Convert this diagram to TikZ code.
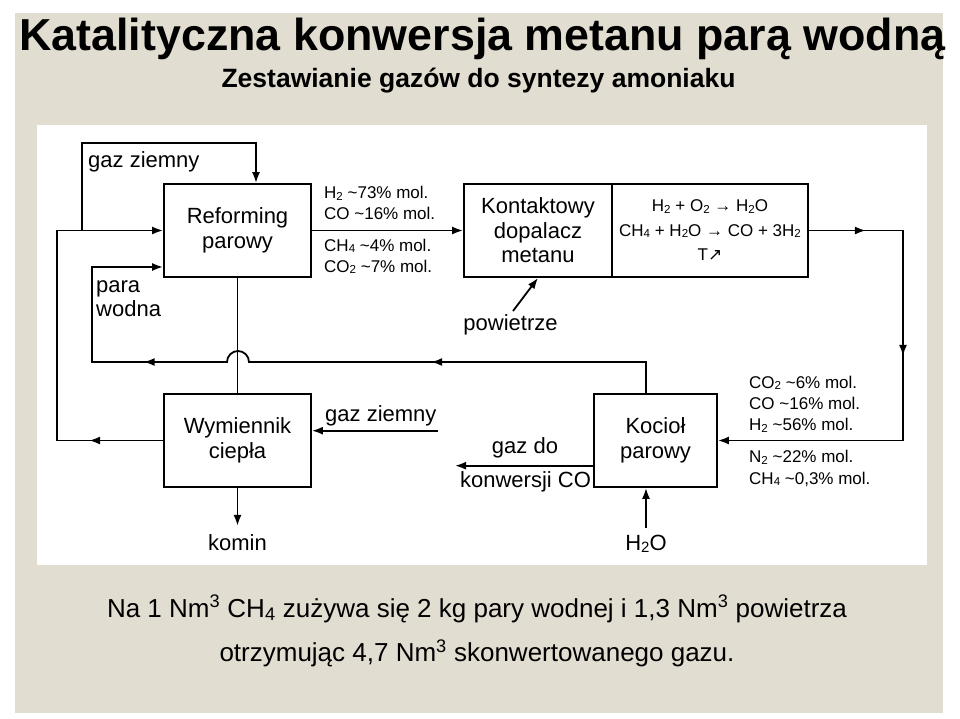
\documentclass[tikz,border=0pt]{standalone}
\usepackage{fontspec}
\setmainfont{Liberation Sans}
\newfontfamily\dejavu{DejaVu Sans}
\usetikzlibrary{arrows.meta,decorations.markings,calc}
\definecolor{paper}{RGB}{226,221,209}
\newcommand\dsub[1]{\raisebox{-0.08em}{\scalebox{0.68}{#1}}}
\newcommand\tl{\textasciitilde}
\tikzset{
  tip/.tip={Latex[length=11pt,width=8pt]},
  flow/.style={line width=1.8pt, -tip},
  plain/.style={line width=1.8pt},
  box/.style={draw, line width=1.8pt, rectangle, minimum height=93pt, inner sep=0pt, align=center, font=\fontsize{22}{24.5}\selectfont},
  big/.style={font=\fontsize{22}{24}\selectfont, inner sep=0pt},
  small/.style={font=\fontsize{17}{20.5}\selectfont, inner sep=0pt, align=left},
  midarr/.style={postaction={decorate, decoration={markings, mark=at position #1 with {\arrow{tip}}}}},
}
\begin{document}
\begin{tikzpicture}[x=1pt,y=-1pt]
\useasboundingbox (0,0) rectangle (960,718);
\fill[white] (0,0) rectangle (960,718);
\fill[paper] (15,13) rectangle (943,713);
\fill[white] (37,125) rectangle (927,565);

% titles
\node[font=\bfseries\fontsize{44.8}{48}\selectfont, anchor=base, inner sep=0pt] (title) at (482.5,50) {Katalityczna konwersja metanu parą wodną};
\node[font=\bfseries\fontsize{26.5}{30}\selectfont, anchor=base, inner sep=0pt] (subtitle) at (478.5,87) {Zestawianie gazów do syntezy amoniaku};
\node[font=\fontsize{26}{44.7}\selectfont, anchor=base, inner sep=0pt, align=center] (note) at (477,661.7) {Na 1 Nm\textsuperscript{3} CH\textsubscript{4} zużywa się 2 kg pary wodnej i 1,3 Nm\textsuperscript{3} powietrza\\otrzymując 4,7 Nm\textsuperscript{3} skonwertowanego gazu.};

% boxes
\node[box, minimum width=147pt] (ref) at (237.5,230.5) {Reforming\\parowy};
\node[box, minimum width=148pt] (kon) at (538,230.5) {Kontaktowy\\dopalacz\\metanu};
\node[box, minimum width=196pt, font=\fontsize{17}{24.5}\selectfont] (rea) at (710,230.5) {H\dsub{2} + O\dsub{2} → H\dsub{2}O\\CH\dsub{4} + H\dsub{2}O → CO + 3H\dsub{2}\\T{\dejavu ↗}};
\node[box, minimum width=147pt] (wym) at (237.5,440.5) {Wymiennik\\ciepła};
\node[box, minimum width=123pt] (koc) at (655.5,440.5) {Kocioł\\parowy};

% labels (multi-line: base = last line)
\node[big, anchor=base west] (gz1) at (88,167) {gaz ziemny};
\node[big, anchor=base west, align=left] (pw) at (96,316.7) {para\\wodna};
\node[small, anchor=base west] (l1) at (324,219.3) {H\dsub{2} \tl73\% mol.\\CO \tl16\% mol.};
\node[small, anchor=base west] (l2) at (324,272) {CH\dsub{4} \tl4\% mol.\\CO\dsub{2} \tl7\% mol.};
\node[small, anchor=base west, font=\fontsize{17}{21.2}\selectfont] (l3) at (749,430.7) {CO\dsub{2} \tl6\% mol.\\CO \tl16\% mol.\\H\dsub{2} \tl56\% mol.};
\node[small, anchor=base west, font=\fontsize{17}{21.3}\selectfont] (l4) at (749,484) {N\dsub{2} \tl22\% mol.\\CH\dsub{4} \tl0,3\% mol.};
\node[big, anchor=base west] (gz2) at (325,421.7) {gaz ziemny};
\node[big, anchor=base] (gd) at (525,453.3) {gaz do};
\node[big, anchor=base] (kco) at (525.5,487.3) {konwersji CO};
\node[big, anchor=base] (komin) at (237.5,550) {komin};
\node[big, anchor=base] (h2o) at (646,550.7) {H\dsub{2}O};
\node[big, anchor=base] (pow) at (510.5,330) {powietrze};

% coordinates
\coordinate (r1) at (903,230.5);
\coordinate (r2) at (903,440.5);
\coordinate (s0) at ($(koc.north)+(-9.5,0)$);
\coordinate (s1) at (646,362);
\coordinate (s2) at (92,362);
\coordinate (s3) at (92,267);
\coordinate (l0a) at (57,440.5);
\coordinate (l0b) at (57,230.5);
\coordinate (gzj) at (82,230.5);
\coordinate (gza) at (82,143);
\coordinate (gzb) at (256,143);
\coordinate (gzs) at (437.7,430.7);
\coordinate (gdk) at (455,465.7);
\coordinate (pw0) at (513,311);

% connectors
\draw[flow] (ref.east) -- (kon.west);
\draw[flow, midarr=57pt, midarr=219.5pt] (rea.east) -- (r1) -- (r2) -- (koc.east);
\draw[plain] (ref.south) -- (wym.north);
\draw[flow, midarr=246pt, midarr=546pt] (s0) -- (s1) -- (249,362) arc[start angle=0, end angle=-180, radius=11] -- (s2) -- (s3) -- ($(ref.west)+(0,36.5)$);
\draw[flow, midarr=74pt] (wym.west) -- (l0a) -- (l0b) -- (ref.west);
\draw[flow] (gzj) -- (gza) -- (gzb) -- ($(ref.north)+(18.5,0)$);
\draw[flow, shorten >=8pt] (wym.south) -- (komin.north);
\draw[flow, shorten <=7pt] (h2o.north) -- (h2o.north |- koc.south);
\draw[flow] (gzs) -- ($(wym.east)+(0,-9.8)$);
\draw[flow] ($(koc.west)+(0,25.2)$) -- (gdk);
\draw[flow] (pw0) -- (kon.south);
\end{tikzpicture}
\end{document}
